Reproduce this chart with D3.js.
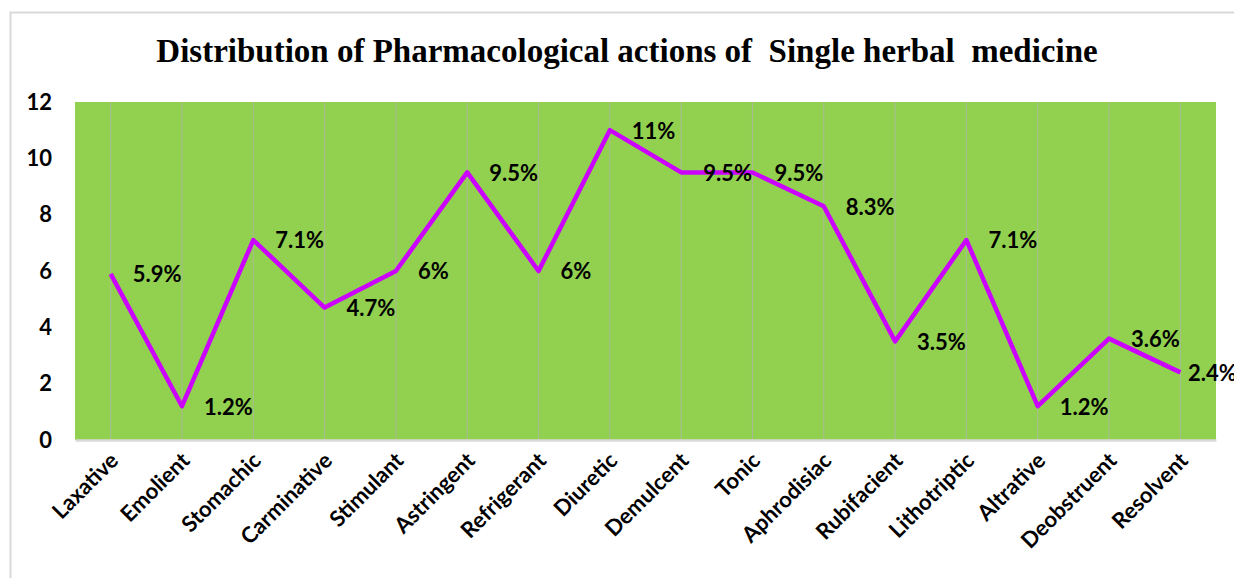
<!DOCTYPE html>
<html>
<head>
<meta charset="utf-8">
<script src="https://cdn.jsdelivr.net/npm/d3@7"></script>
<style>
  body { margin: 0; background: #fff; }
  svg { display: block; }
</style>
</head>
<body>
<div id="chart"></div>
<script>
// chart data
const categories = ['Laxative', 'Emolient', 'Stomachic', 'Carminative', 'Stimulant', 'Astringent',
  'Refrigerant', 'Diuretic', 'Demulcent', 'Tonic', 'Aphrodisiac', 'Rubifacient', 'Lithotriptic',
  'Altrative', 'Deobstruent', 'Resolvent'];
const values = [5.9, 1.2, 7.1, 4.7, 6, 9.5, 6, 11, 9.5, 9.5, 8.3, 3.5, 7.1, 1.2, 3.6, 2.4];
const valueLabels = ['5.9%', '1.2%', '7.1%', '4.7%', '6%', '9.5%', '6%', '11%', '9.5%', '9.5%',
  '8.3%', '3.5%', '7.1%', '1.2%', '3.6%', '2.4%'];
const yTicks = [0, 2, 4, 6, 8, 10, 12];
const title = 'Distribution of Pharmacological actions of  Single herbal  medicine';

const W = 1234, H = 578;
const margin = {top: 102, right: 18, bottom: 138, left: 75};
const width = W - margin.left - margin.right;
const height = H - margin.top - margin.bottom;
const labelFont = 'Lato, "Open Sans", sans-serif';

const svg = d3.select('#chart').append('svg')
  .attr('width', W)
  .attr('height', H);

// outer chart border
svg.append('rect')
  .attr('x', 10.5).attr('y', 12.5)
  .attr('width', W + 10).attr('height', H + 10)
  .attr('fill', 'none')
  .attr('stroke', '#d9d9d9')
  .attr('stroke-width', 2);

svg.append('text')
  .attr('x', 627)
  .attr('y', 62)
  .attr('text-anchor', 'middle')
  .style('font-family', '"Liberation Serif", "Times New Roman", serif')
  .style('font-weight', 'bold')
  .style('font-size', '33px')
  .style('white-space', 'pre')
  .text(title);

const x = d3.scaleBand().domain(categories).range([0, width]);
const y = d3.scaleLinear().domain([0, 12]).range([height, 0]);
const cx = d => x(d) + x.bandwidth() / 2;

const main = svg.append('g')
  .attr('transform', `translate(${margin.left},${margin.top})`);

// plot area background
main.append('rect')
  .attr('width', width)
  .attr('height', height)
  .attr('fill', '#92d050');

// vertical gridlines at each category
main.append('g')
  .selectAll('line')
  .data(categories)
  .join('line')
  .attr('x1', d => cx(d)).attr('x2', d => cx(d))
  .attr('y1', 0).attr('y2', height)
  .attr('stroke', '#b4b4b4')
  .attr('stroke-opacity', 0.7)
  .attr('stroke-width', 1);

// x axis
const xAxis = main.append('g')
  .attr('transform', `translate(0,${height})`)
  .call(d3.axisBottom(x).tickSize(0).tickPadding(0));
xAxis.select('.domain')
  .attr('stroke', '#d9d9d9')
  .attr('stroke-width', 2.5);
xAxis.selectAll('text')
  .attr('x', 0).attr('y', 0).attr('dy', 0)
  .attr('text-anchor', 'end')
  .attr('transform', 'translate(9,22) rotate(-45)')
  .style('font-family', labelFont)
  .style('font-weight', 'bold')
  .style('font-size', '22px')
  .style('fill', '#000');

// y axis
const yAxis = main.append('g')
  .call(d3.axisLeft(y).tickValues(yTicks).tickSize(0).tickPadding(23));
yAxis.select('.domain').remove();
yAxis.selectAll('text')
  .style('font-family', labelFont)
  .style('font-weight', 'bold')
  .style('font-size', '22px')
  .style('fill', '#000');

// series line
const line = d3.line()
  .x((d, i) => cx(categories[i]))
  .y(d => y(d));

main.append('path')
  .datum(values)
  .attr('d', line)
  .attr('fill', 'none')
  .attr('stroke', '#cc00ff')
  .attr('stroke-width', 4.5)
  .attr('stroke-linejoin', 'round');

// data labels (last one gets pulled in so it stays near the edge like Excel does)
main.append('g')
  .selectAll('text')
  .data(values)
  .join('text')
  .attr('x', (d, i) => Math.min(cx(categories[i]) + 22, width - 28))
  .attr('y', d => y(d))
  .attr('dy', '0.38em')
  .style('font-family', labelFont)
  .style('font-weight', 'bold')
  .style('font-size', '22px')
  .text((d, i) => valueLabels[i]);
</script>
</body>
</html>
